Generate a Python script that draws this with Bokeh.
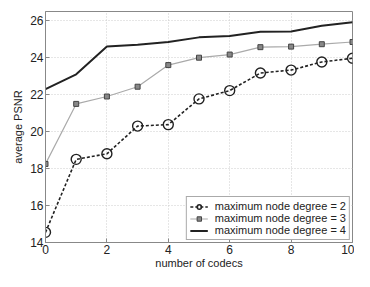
from bokeh.plotting import figure
from bokeh.models import Range1d, FixedTicker, Legend, LegendItem
from bokeh.embed import file_html
from bokeh.resources import INLINE

codecs = [0, 1, 2, 3, 4, 5, 6, 7, 8, 9, 10]
deg2 = [14.55, 18.5, 18.8, 20.3, 20.38, 21.77, 22.22, 23.17, 23.33, 23.77, 23.97]
deg3 = [18.25, 21.5, 21.9, 22.43, 23.6, 24.0, 24.17, 24.57, 24.6, 24.73, 24.85]
deg4 = [22.3, 23.1, 24.6, 24.7, 24.85, 25.1, 25.17, 25.4, 25.42, 25.73, 25.92]
labels = ["maximum node degree = 2", "maximum node degree = 3", "maximum node degree = 4"]
x_ticks = [0, 2, 4, 6, 8, 10]
y_ticks = [14, 16, 18, 20, 22, 24, 26]

FONT = "Liberation Sans"

p = figure(width=354, height=271, output_backend="svg", toolbar_location=None,
           x_range=Range1d(0, 10), y_range=Range1d(14, 26.5),
           min_border_left=45, min_border_right=2, min_border_top=11, min_border_bottom=10)
p.background_fill_color = "white"
p.border_fill_color = "white"
p.outline_line_color = "#888888"
p.outline_line_width = 1

for ax in (p.xaxis[0], p.yaxis[0]):
    ax.axis_line_color = "#888888"
    ax.major_tick_line_color = "#888888"
    ax.major_tick_in = 4
    ax.major_tick_out = 0
    ax.minor_tick_line_color = None
    ax.major_label_text_font = FONT
    ax.major_label_text_font_size = "12px"
    ax.major_label_text_color = "#222222"
    ax.axis_label_text_font = FONT
    ax.axis_label_text_font_size = "11px"
    ax.axis_label_text_font_style = "normal"
    ax.axis_label_text_color = "#222222"
    ax.major_label_standoff = 2

p.xaxis.ticker = FixedTicker(ticks=x_ticks)
p.yaxis.ticker = FixedTicker(ticks=y_ticks)
p.xaxis.axis_label = "number of codecs"
p.yaxis.axis_label = "average PSNR"
p.xaxis.axis_label_standoff = 0
p.yaxis.axis_label_standoff = 3

p.xgrid.ticker = FixedTicker(ticks=x_ticks)
p.ygrid.ticker = FixedTicker(ticks=y_ticks)
for g in (p.xgrid[0], p.ygrid[0]):
    g.grid_line_color = "#cccccc"
    g.grid_line_dash = "1 2"
    g.grid_line_width = 1

l2 = p.line(codecs, deg2, line_color="#222222", line_width=1.6, line_dash="3 2")
m2 = p.scatter(codecs, deg2, marker="circle", size=10, fill_color=None,
               line_color="#222222", line_width=1.4)
l3 = p.line(codecs, deg3, line_color="#aaaaaa", line_width=1.2)
m3 = p.scatter(codecs, deg3, marker="square", size=5, fill_color="#888888",
               line_color="#444444", line_width=1)
l4 = p.line(codecs, deg4, line_color="#222222", line_width=2)

legend = Legend(items=[
    LegendItem(label=labels[0], renderers=[l2, m2]),
    LegendItem(label=labels[1], renderers=[l3, m3]),
    LegendItem(label=labels[2], renderers=[l4]),
], location="bottom_right")
legend.label_text_font = FONT
legend.label_text_font_size = "11px"
legend.label_text_color = "#222222"
legend.border_line_color = "#555555"
legend.border_line_width = 1
legend.background_fill_color = "white"
legend.background_fill_alpha = 1
legend.glyph_width = 18
legend.glyph_height = 11
legend.label_height = 11
legend.spacing = 0
legend.padding = 3
legend.margin = 2
legend.label_standoff = 7
p.add_layout(legend)

open("out.html", "w").write(file_html(p, INLINE))
